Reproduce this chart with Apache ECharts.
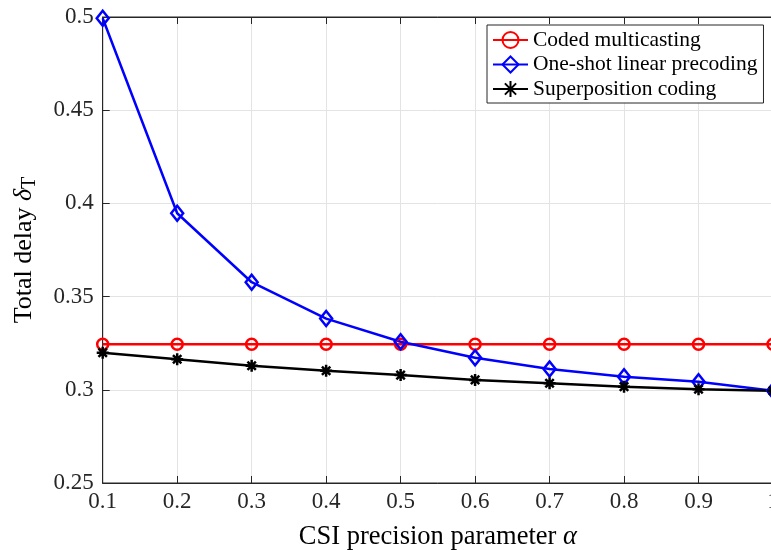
<!DOCTYPE html>
<html>
<head>
<meta charset="utf-8">
<script src="https://cdn.jsdelivr.net/npm/echarts@6/dist/echarts.min.js"></script>
<style>html,body{margin:0;padding:0;background:#fff}#c{width:771px;height:550px}</style>
</head>
<body>
<div id="c"></div>
<script>
var alphaValues = [0.1, 0.2, 0.3, 0.4, 0.5, 0.6, 0.7, 0.8, 0.9, 1.0];
var codedMulticasting = [0.3244, 0.3244, 0.3244, 0.3244, 0.3244, 0.3244, 0.3244, 0.3244, 0.3244, 0.3244];
var oneShotLinear = [0.4993, 0.3947, 0.3577, 0.3382, 0.3258, 0.3172, 0.3112, 0.3070, 0.3043, 0.2995];
var superposition = [0.3199, 0.3164, 0.3129, 0.3102, 0.3079, 0.3053, 0.3035, 0.3017, 0.3003, 0.2995];
var seriesNames = ['Coded multicasting', 'One-shot linear precoding', 'Superposition coding'];

function pairs(ys) { return alphaValues.map(function (x, i) { return [x, ys[i]]; }); }

var FONT = 'Liberation Serif';
var starPath = 'path://M10 0 L10 20 M0 10 L20 10 M3 3 L17 17 M3 17 L17 3';

var chart = echarts.init(document.getElementById('c'), null, { renderer: 'canvas' });
chart.setOption({
  backgroundColor: '#fff',
  animation: false,
  grid: { left: 102.7, right: -2, top: 17, bottom: 67, outerBoundsMode: 'none', containLabel: false,
          show: true, borderColor: '#262626', borderWidth: 1, backgroundColor: 'transparent' },
  legend: {
    orient: 'vertical', left: 487, top: 25,
    padding: [4, 6, 3, 5], itemGap: 2.5, itemWidth: 35, itemHeight: 20,
    borderColor: '#262626', borderWidth: 1, backgroundColor: '#fff',
    textStyle: { fontFamily: FONT, fontSize: 21.5, lineHeight: 20, color: '#000' },
    data: seriesNames
  },
  xAxis: [{
    type: 'value', min: 0.1, max: 1, interval: 0.1,
    axisLine: { show: true, lineStyle: { color: '#262626', width: 1 } },
    axisTick: { show: true, inside: true, length: 7, lineStyle: { color: '#262626' } },
    splitLine: { show: true, lineStyle: { color: '#e3e3e3', width: 1 } },
    axisLabel: { fontFamily: FONT, fontSize: 23, color: '#262626', margin: 7, hideOverlap: false,
                 formatter: function (v) { return +v.toFixed(1) + ''; } },
    name: 'CSI precision parameter {i|α}', nameLocation: 'middle', nameGap: 41,
    nameTextStyle: { fontFamily: FONT, fontSize: 26.5, color: '#000', rich: { i: { fontFamily: FONT, fontStyle: 'italic', fontSize: 26.5, color: '#000' } } }
  }, {
    type: 'value', position: 'top', min: 0.1, max: 1, interval: 0.1,
    axisLine: { show: true, lineStyle: { color: '#262626', width: 1 } },
    axisTick: { show: true, inside: true, length: 7, lineStyle: { color: '#262626' } },
    splitLine: { show: false }, axisLabel: { show: false }
  }],
  yAxis: {
    type: 'value', min: 0.25, max: 0.5, interval: 0.05,
    axisLine: { show: true, lineStyle: { color: '#262626', width: 1 } },
    axisTick: { show: true, inside: true, length: 7, lineStyle: { color: '#262626' } },
    splitLine: { show: true, lineStyle: { color: '#e3e3e3', width: 1 } },
    axisLabel: { fontFamily: FONT, fontSize: 23, color: '#262626', margin: 9, formatter: function (v) { return +v.toFixed(2) + ''; } },
    name: 'Total delay {i|δ}{s|T}', nameLocation: 'middle', nameGap: 63,
    nameTextStyle: { fontFamily: FONT, fontSize: 26, color: '#000',
      rich: { i: { fontFamily: FONT, fontStyle: 'italic', fontSize: 26, color: '#000' },
              s: { fontFamily: FONT, fontSize: 20, color: '#000', padding: [12, 0, 0, 0] } } }
  },
  series: [{
    name: seriesNames[0], type: 'line', data: pairs(codedMulticasting),
    symbol: 'circle', symbolSize: 11, showAllSymbol: true, clip: false,
    lineStyle: { color: '#ff0000', width: 2.5 },
    itemStyle: { color: 'rgba(255,255,255,0)', borderColor: '#ff0000', borderWidth: 2.5 }
  }, {
    name: seriesNames[1], type: 'line', data: pairs(oneShotLinear),
    symbol: 'diamond', symbolSize: [12, 15], showAllSymbol: true, clip: false,
    lineStyle: { color: '#0000ff', width: 2.5 },
    itemStyle: { color: 'rgba(255,255,255,0)', borderColor: '#0000ff', borderWidth: 2.5 }
  }, {
    name: seriesNames[2], type: 'line', data: pairs(superposition),
    symbol: starPath, symbolSize: 12, showAllSymbol: true, clip: false,
    lineStyle: { color: '#000', width: 2.5 },
    itemStyle: { color: 'rgba(0,0,0,0)', borderColor: '#000', borderWidth: 2.5 }
  }]
});
</script>
</body>
</html>
